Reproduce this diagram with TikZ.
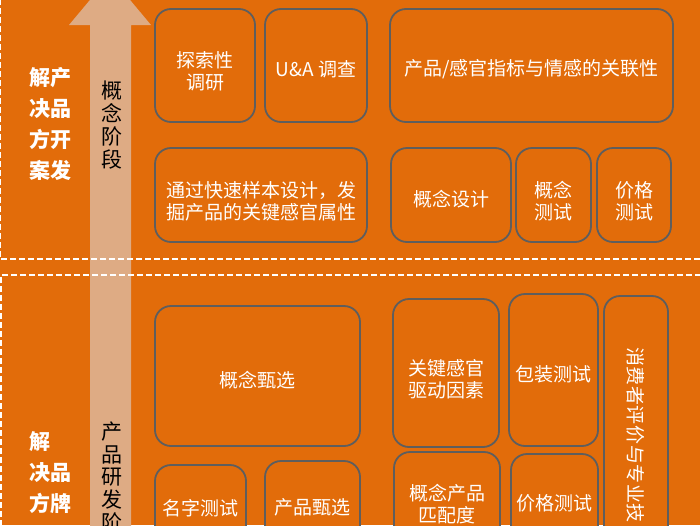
\documentclass[tikz,border=0pt]{standalone}
\usepackage{fontspec}
\setmainfont{Noto Sans CJK SC}
\usetikzlibrary{positioning}
\definecolor{bgorange}{HTML}{E26C0A}
\definecolor{arrowtan}{HTML}{DEAB84}
\definecolor{edgegray}{HTML}{5E5E5E}
\newcommand{\liftline}{\rule{0pt}{28pt}}
\begin{document}
\begin{tikzpicture}
[x=1pt, y=-1pt, font=\fontsize{19}{22}\selectfont]
\tikzstyle{card}=[draw=edgegray, line width=1.8pt, rounded corners=16pt, fill=bgorange, text=white, align=center, inner sep=0pt, execute at begin node={\rule{0pt}{24pt}}]
\tikzstyle{side}=[text=white, align=left, inner sep=0pt, font=\fontsize{21}{31}\selectfont\bfseries]
\tikzstyle{stage}=[text=black, align=center, inner sep=0pt, font=\fontsize{21}{22.8}\selectfont]
\tikzstyle{split}=[draw=white, line width=1.4pt, dash pattern=on 6pt off 3pt]

\useasboundingbox (0,0) rectangle (700,525);
\clip (0,0) rectangle (700,525);
\fill[bgorange] (0,0) rectangle (700,525);

% rising arrow behind the two stages
\fill[arrowtan] (90,545) -- (90,25) -- (69,25) -- (110,-24) -- (151,25) -- (131,25) -- (131,545) -- cycle;

\draw[split] (0,-10) -- (0,259) -- (710,259);
\draw[split] (710,275) -- (1,275) -- (1,545);

\node[stage]	(conceptstage)	at (112,125)	{概\\念\\阶\\段};
\node[stage]	(devstage)	at (112,477)	{产\\品\\研\\发\\阶};

\node[side]	(solvedev)	at (50,124)	{解产\\决品\\方开\\案发};
\node[side]	(solvebrand)	at (50,473)	{解\\决品\\方牌};

% concept stage
\node[card, minimum width=100, minimum height=113]	(explore)	at (205,65.5)	{\liftline 探索性\\调研};
\node[card, minimum width=102, minimum height=113]	(ua)	at (316,65.5)	{U\&A 调查};
\node[card, minimum width=283, minimum height=113]	(link)	at (531.5,65.5)	{产品/感官指标与情感的关联性};
\node[card, minimum width=212, minimum height=94]	(rapid)	at (261,195)	{\liftline 通过快速样本设计，发\\掘产品的关键感官属性};
\node[card, minimum width=120, minimum height=94]	(design)	at (451,195)	{概念设计};
\node[card, minimum width=75, minimum height=94]	(ctest)	at (553.5,195)	{\liftline 概念\\测试};
\node[card, minimum width=74, minimum height=94]	(ptest)	at (634,195)	{\liftline 价格\\测试};

% development stage
\node[card, minimum width=205, minimum height=140]	(screen)	at (257.5,376)	{概念甄选};
\node[card, minimum width=91, minimum height=79]	(name)	at (200.5,504.5)	{名字测试};
\node[card, minimum width=95, minimum height=85]	(pscreen)	at (312.5,503.5)	{产品甄选};
\node[card, minimum width=106, minimum height=148]	(driver)	at (446,373)	{\liftline 关键感官\\驱动因素};
\node[card, minimum width=89, minimum height=152]	(pack)	at (553.5,370)	{包装测试};
\node[card, minimum width=64, minimum height=304]	(consumer)	at (636,448)	{};
\node[rotate=-90, anchor=west, text=white, inner sep=0pt, font=\fontsize{19}{22}\selectfont\addfontfeature{LetterSpace=3}]
	(consumerlbl)	at ([yshift=-52pt]consumer.north)	{消费者评价与专业技};
\node[card, minimum width=106, minimum height=92]	(match)	at (447,498)	{\liftline 概念产品\\匹配度};
\node[card, minimum width=87, minimum height=91]	(price)	at (554.5,499.5)	{价格测试};
\end{tikzpicture}
\end{document}
